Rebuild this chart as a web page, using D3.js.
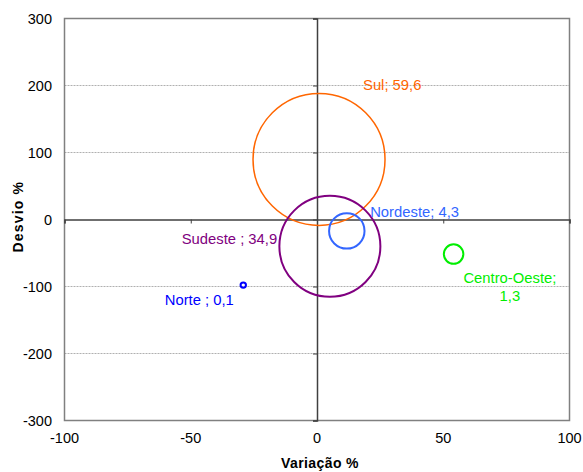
<!DOCTYPE html>
<html><head><meta charset="utf-8">
<script src="https://cdn.jsdelivr.net/npm/d3@7"></script>
<style>body{margin:0;background:#fff;} text{font-family:"Liberation Sans",Arial,sans-serif;}</style>
</head><body>
<svg id="c" width="583" height="472"></svg>
<script>
const regions = ["Sul", "Sudeste", "Nordeste", "Centro-Oeste", "Norte"];
const variacao = [0.8, 5.1, 11.8, 54.1, -29.2];
const desvio = [89.7, -40.1, -17, -51.6, -97.9];
const share = [59.6, 34.9, 4.3, 1.3, 0.1];
const labels = [["Sul; 59,6"], ["Sudeste ; 34,9"], ["Nordeste; 4,3"], ["Centro-Oeste;", "1,3"], ["Norte ; 0,1"]];
const colors = ["#FF6600", "#800080", "#3366FF", "#00EE00", "#0000FF"];
const xTicks = [-100, -50, 0, 50, 100];
const yTicks = [-300, -200, -100, 0, 100, 200, 300];

const svg = d3.select("#c");
const L = 64.5, R = 569.5, T = 18.5, B = 420.5;
const x = d3.scaleLinear().domain([-100, 100]).range([L, R]);
const y = d3.scaleLinear().domain([-300, 300]).range([B, T]);
const r = d3.scaleSqrt().domain([0, 59.6]).range([0, 66]);

// gridlines
svg.append("g").selectAll("line").data(yTicks.filter(d => d !== 0 && Math.abs(d) !== 300)).join("line")
  .attr("x1", L).attr("x2", R).attr("y1", d => y(d)).attr("y2", d => y(d))
  .attr("stroke", "#b0b0b0").attr("stroke-width", 1).attr("stroke-dasharray", "2,1");

// frame
svg.append("rect").attr("x", L).attr("y", T).attr("width", R - L).attr("height", B - T)
  .attr("fill", "none").attr("stroke", "#808080").attr("stroke-width", 1.5);

// zero axes with ticks
const xAxis = d3.axisBottom(x).tickValues(xTicks).tickSize(4).tickFormat("");
const gx = svg.append("g").attr("transform", `translate(0,${y(0)})`).call(xAxis);
gx.select(".domain").attr("stroke", "#404040").attr("stroke-width", 1.5);
gx.selectAll(".tick line").attr("stroke", "#404040");
const yAxis = d3.axisLeft(y).tickValues(yTicks).tickSize(4).tickFormat("");
const gy = svg.append("g").attr("transform", `translate(${x(0)},0)`).call(yAxis);
gy.select(".domain").attr("stroke", "#404040").attr("stroke-width", 1.5);
gy.selectAll(".tick line").attr("stroke", "#404040");

// tick labels
svg.append("g").selectAll("text").data(yTicks).join("text")
  .attr("x", 52).attr("y", d => y(d) + 5.5).attr("text-anchor", "end")
  .attr("font-size", 14.5).text(d => d);
svg.append("g").selectAll("text").data(xTicks).join("text")
  .attr("x", d => x(d)).attr("y", 443).attr("text-anchor", "middle")
  .attr("font-size", 14.5).text(d => d);

// axis titles
svg.append("text").attr("x", x(0) + 3).attr("y", 468).attr("text-anchor", "middle")
  .attr("font-size", 14).attr("letter-spacing", 0.4).attr("font-weight", "bold").text("Variação %");
svg.append("text").attr("transform", `translate(23.3,216.7) rotate(-90)`).attr("text-anchor", "middle")
  .attr("font-size", 14).attr("letter-spacing", 1.2).attr("font-weight", "bold").text("Desvio %");

// bubbles
const data = regions.map((n, i) => ({n, x: variacao[i], y: desvio[i], s: share[i], c: colors[i], lab: labels[i]}));
svg.append("g").selectAll("circle").data(data).join("circle")
  .attr("cx", d => x(d.x)).attr("cy", d => y(d.y)).attr("r", d => r(d.s))
  .attr("fill", "none").attr("stroke", d => d.c).attr("stroke-width", (d, i) => i === 0 ? 1.5 : 2);

// labels (offsets relative to bubble centre: dx, baseline dy, anchor)
const off = [[44, -69.7, "start"], [-52.7, -2.7, "end"], [23.4, -14.3, "start"], [56.3, 29.1, "middle"], [-44, 19.8, "middle"]];
data.forEach((d, i) => {
  const t = svg.append("text").attr("fill", d.c).attr("font-size", 14.8)
    .attr("text-anchor", off[i][2]);
  d.lab.forEach((s, j) => {
    t.append("tspan").attr("x", x(d.x) + off[i][0]).attr("y", y(d.y) + off[i][1] + j * 17.5).text(s);
  });
});
</script>
</body></html>
